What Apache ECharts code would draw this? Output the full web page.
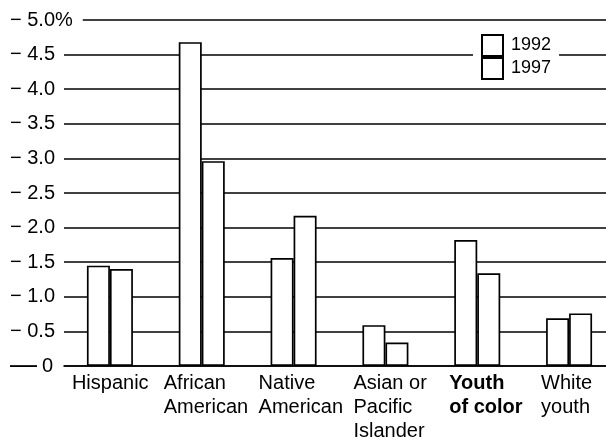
<!DOCTYPE html>
<html>
<head>
<meta charset="utf-8">
<script src="https://cdn.jsdelivr.net/npm/echarts@6/dist/echarts.min.js"></script>
<style>
  html, body { margin: 0; padding: 0; background: #fff; overflow: hidden; }
  /* the print is cropped on the right, so the chart runs a little past the window */
  #chart { width: 615px; height: 443px; }
</style>
</head>
<body>
<div id="chart"></div>
<script>
// data
const categories = ["Hispanic", "African\nAmerican", "Native\nAmerican", "Asian or\nPacific\nIslander", "Youth\nof color", "White\nyouth"];
const years = ["1992", "1997"];
const values1992 = [1.45, 4.68, 1.56, 0.59, 1.82, 0.69];
const values1997 = [1.40, 2.96, 2.17, 0.34, 1.34, 0.76];
const yTickLabels = ["0", "− 0.5", "− 1.0", "− 1.5", "− 2.0", "− 2.5", "− 3.0", "− 3.5", "− 4.0", "− 4.5", "− 5.0%"];

// how far left of the bar pair each label starts (px)
const labelIndent = [38, 38, 35, 32, 28, 28];

const chart = echarts.init(document.getElementById("chart"));
const font = "Liberation Sans";

const barStyle = {
  color: "#fff",
  borderColor: "#000",
  borderWidth: 1.7,
};

// x labels: one rich style per category, fixed width so lines share a left edge
const xRich = {};
labelIndent.forEach((d, i) => {
  xRich["c" + i] = {
    width: d * 2,
    align: "left",
    fontFamily: font,
    fontSize: 20,
    lineHeight: 24,
    color: "#000",
    fontWeight: i === 4 ? "bold" : "normal",
  };
});

// y labels: numbers right aligned, the "%" hangs out past them like in print
const yText = { fontFamily: font, fontSize: 20, color: "#000" };
const yRich = {
  v: { ...yText, width: 47, align: "right" },
  p: { ...yText, align: "right", backgroundColor: "#fff", padding: [0, 10, 0, 0] },
  d: { ...yText, fontSize: 27, align: "left", padding: [0, 3, 0, 2] },
  z: { ...yText, width: 13, align: "right" },
};
const yFormat = (v) => {
  const s = yTickLabels[Math.round(v / 0.5)];
  if (s === "0") return "{d|—}{z|0}";
  if (s.endsWith("%")) return "{v|" + s.slice(0, -1) + "}{p|%}";
  return "{v|" + s + "}";
};

const option = {
  animation: false,
  textStyle: { fontFamily: font },
  grid: {
    left: 64,
    top: 20,
    right: 0,
    height: 346,
  },
  legend: {
    data: years,
    orient: "vertical",
    left: 473,
    top: 30,
    itemWidth: 21,
    itemHeight: 21,
    itemGap: 0,
    icon: "rect",
    padding: [4, 8, 4, 8],
    backgroundColor: "#fff",
    textStyle: {
      fontFamily: font,
      fontSize: 18,
      color: "#000",
      padding: [0, 0, 0, 3],
    },
  },
  xAxis: {
    type: "category",
    data: categories,
    axisLine: { show: true, lineStyle: { color: "#000", width: 1.6 } },
    axisTick: { show: false },
    axisLabel: {
      color: "#000",
      fontFamily: font,
      fontSize: 20,
      lineHeight: 24,
      align: "center",
      margin: 5,
      interval: 0,
      formatter: (v, i) => v.split("\n").map((line) => "{c" + i + "|" + line + "}").join("\n"),
      rich: xRich,
    },
  },
  yAxis: [
    {
      // labels only, drawn above the grid lines
      type: "value",
      position: "left",
      min: 0,
      max: 5,
      interval: 0.5,
      z: 5,
      axisLine: { show: false },
      axisTick: { show: false },
      splitLine: { show: false },
      axisLabel: {
        align: "left",
        margin: 56,
        formatter: yFormat,
        rich: yRich,
      },
    },
    {
      // grid lines only
      type: "value",
      position: "left",
      min: 0,
      max: 5,
      interval: 0.5,
      z: 0,
      axisLine: { show: false },
      axisTick: { show: false },
      axisLabel: { show: false },
      splitLine: { show: true, lineStyle: { color: "#000", width: 1.5 } },
    },
  ],
  series: [
    {
      name: years[0],
      type: "bar",
      data: values1992,
      barWidth: 23,
      barGap: "0%",
      itemStyle: barStyle,
    },
    {
      name: years[1],
      type: "bar",
      data: values1997,
      barWidth: 23,
      barGap: "0%",
      itemStyle: barStyle,
    },
  ],
};

chart.setOption(option);
</script>
</body>
</html>
